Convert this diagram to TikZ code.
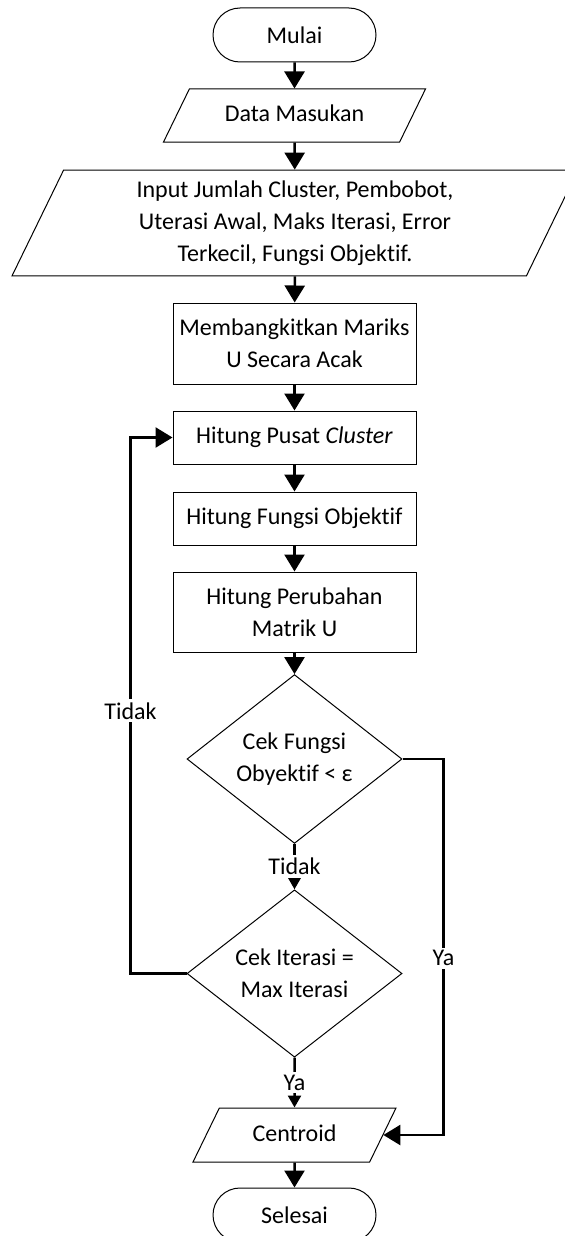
\documentclass[tikz,border=0pt]{standalone}
\usepackage{fontspec}
\setmainfont{Carlito}[Ligatures=NoCommon]
\usetikzlibrary{shapes.geometric,arrows.meta}

\begin{document}
\begin{tikzpicture}[x=0.5pt,y=-0.5pt,
  font=\fontsize{12}{16}\selectfont,
  term/.style={draw,line width=0.5pt,rounded corners=13.5pt,minimum width=81.5pt,minimum height=27pt,inner sep=0pt},
  io/.style={draw,line width=0.5pt,trapezium,trapezium left angle=64,trapezium right angle=116,trapezium stretches body,align=center,inner xsep=0pt},
  oneline/.style={text height=9pt,text depth=3pt},
  box/.style={draw,line width=0.5pt,align=center,inner sep=0pt,minimum width=121.5pt},
  decide/.style={draw,line width=0.5pt,diamond,align=center,inner sep=0pt,minimum width=107.5pt,minimum height=80pt},
  flow/.style={line width=1.25pt,-{Triangle[width=10pt,length=8.5pt]}},
  flowsmall/.style={line width=1.25pt,-{Triangle[width=6.5pt,length=6pt]}},
  lbl/.style={fill=white,inner sep=1.5pt}]

\useasboundingbox (0,0) rectangle (565,1236);

% Start and input
\node[term] (mulai) at (294.5,35) {Mulai};
\node[io,oneline,inner ysep=7.25pt,minimum width=131pt] (data) at (294.5,115.5) {Data Masukan};
\node[io,inner ysep=5.25pt,minimum width=283pt] (input) at (295,223)
  {Input Jumlah Cluster, Pembobot,\\ Uterasi Awal, Maks Iterasi, Error\\ Terkecil, Fungsi Objektif.};

% Process steps
\node[box,minimum height=40.5pt] (acak) at (294.5,343.5) {Membangkitkan Mariks\\ U Secara Acak};
\node[box,minimum height=26.5pt] (pusat) at (294.5,437.5) {Hitung Pusat \textit{Cluster}};
\node[box,minimum height=26.5pt] (fungsi) at (294.5,518.5) {Hitung Fungsi Objektif};
\node[box,minimum height=40pt] (ubah) at (294.5,612) {Hitung Perubahan\\ Matrik U};

% Decisions
\node[decide] (cek1) at (294.5,759) {Cek Fungsi\\ Obyektif < ε};
\node[decide] (cek2) at (294.5,973.5) {Cek Iterasi =\\ Max Iterasi};

% Output and end
\node[io,oneline,inner ysep=7.5pt,minimum width=101.5pt] (cen) at (294.5,1135) {Centroid};
\node[term] (selesai) at (294.5,1215) {Selesai};

% Straight arrows
\draw[flow] (mulai) -- (data);
\draw[flow] (data) -- (input);
\draw[flow] (input) -- (acak);
\draw[flow] (acak) -- (pusat);
\draw[flow] (pusat) -- (fungsi);
\draw[flow] (fungsi) -- (ubah);
\draw[flow] (ubah) -- (cek1);
\draw[flow] (cen) -- (selesai);

% Labelled arrows
\draw[flowsmall] (cek1.south) -- node[lbl] {Tidak} (cek2.north);
\draw[flowsmall] (cek2.south) -- node[lbl] {Ya} (cen.north);

% Loop back and exit
\draw[flow] (cek2.west) -- ++(-56,0) coordinate (kiri)
  -- node[lbl,pos=0.49] {Tidak} (kiri |- pusat.west) -- (pusat.west);
\draw[flow] (cek1.east) -- ++(41,0) coordinate (kanan)
  -- node[lbl,pos=0.53] {Ya} (kanan |- cen.east) -- (cen.east);

\end{tikzpicture}
\end{document}
